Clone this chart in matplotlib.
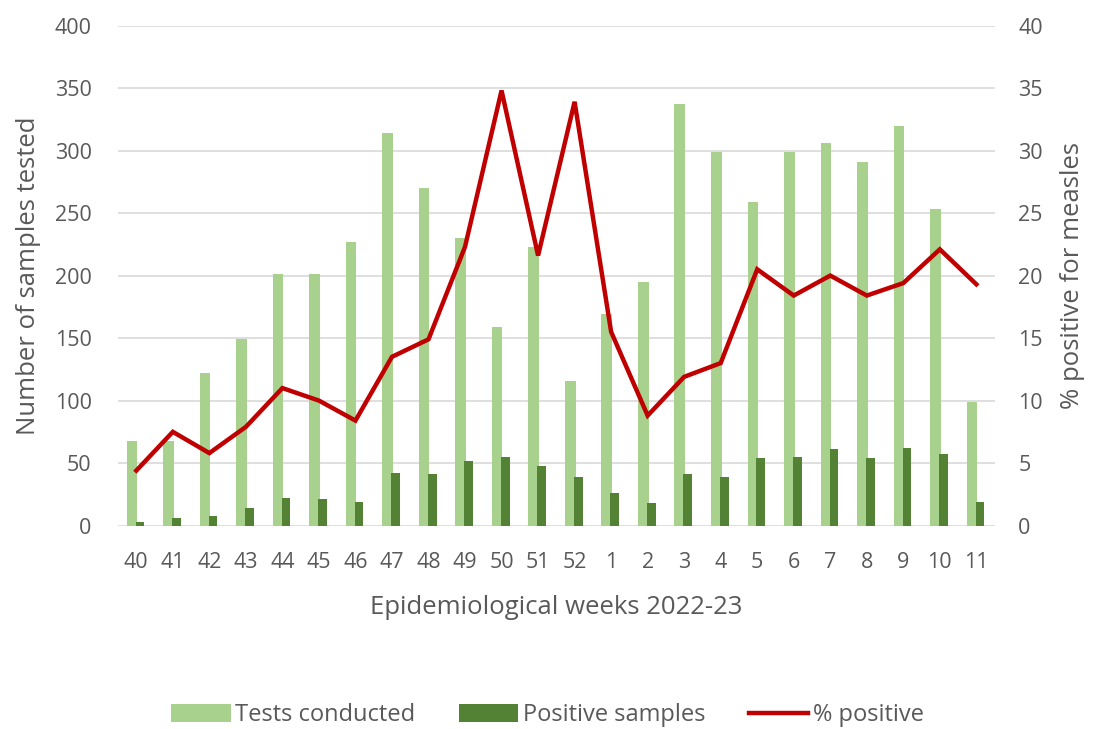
import matplotlib.pyplot as plt
import numpy as np

plt.rcParams['font.family'] = ['Open Sans', 'DejaVu Sans']

weeks = ['40', '41', '42', '43', '44', '45', '46', '47', '48', '49', '50', '51', '52',
         '1', '2', '3', '4', '5', '6', '7', '8', '9', '10', '11']
tests = [68, 68, 122, 149, 201, 201, 227, 314, 270, 230, 159, 223,
         116, 169, 195, 337, 299, 259, 299, 306, 291, 320, 253, 99]
positives = [3, 6, 8, 14, 22, 21, 19, 42, 41, 52, 55, 48,
             39, 26, 18, 41, 39, 54, 55, 61, 54, 62, 57, 19]
pct_positive = [4.4, 7.5, 5.8, 7.9, 11.0, 10.0, 8.4, 13.5, 14.9, 22.3, 34.8, 21.6,
                33.9, 15.5, 8.8, 11.9, 13.0, 20.5, 18.4, 20.0, 18.4, 19.4, 22.1, 19.3]

light = '#A9D18E'
dark = '#548235'
red = '#C00000'
grey = '#595959'

fig = plt.figure(figsize=(10.93, 7.29), dpi=100)
ax = fig.add_axes([0.108, 0.279, 0.802, 0.686])
ax2 = ax.twinx()

x = np.arange(len(weeks))
ax.bar(x - 0.12, tests, width=0.29, color=light, label='Tests conducted', zorder=2)
ax.bar(x + 0.10, positives, width=0.24, color=dark, label='Positive samples', zorder=3)
ax2.plot(x, pct_positive, color=red, linewidth=3.2, label='% positive',
         solid_joinstyle='miter')

ax.set_xlim(-0.5, len(weeks) - 0.5)
ax.set_ylim(0, 400)
ax.set_yticks(range(0, 401, 50))
ax2.set_ylim(0, 40)
ax2.set_yticks(range(0, 41, 5))
ax.set_xticks(x)
ax.set_xticklabels(weeks)

ax.grid(axis='y', color='#D9D9D9', linewidth=1.2, zorder=0)
ax.set_axisbelow(True)
for a in (ax, ax2):
    for s in a.spines.values():
        s.set_visible(False)
    a.tick_params(length=0, labelsize=15.5, colors=grey)
ax.tick_params(axis='y', pad=19)
ax2.tick_params(axis='y', pad=17)
ax.tick_params(axis='x', pad=19)

ax.set_ylabel('Number of samples tested', fontsize=18.5, color=grey, labelpad=10)
ax2.set_ylabel('% positive for measles', fontsize=18.5, color=grey, labelpad=12)
ax.set_xlabel('Epidemiological weeks 2022-23', fontsize=18.5, color=grey, labelpad=16)

h1, l1 = ax.get_legend_handles_labels()
h2, l2 = ax2.get_legend_handles_labels()
fig.legend(h1 + h2, l1 + l2, loc='center', bbox_to_anchor=(0.501, 0.019), ncol=3,
           frameon=False, fontsize=17, labelcolor=grey, handlelength=2.5,
           handleheight=0.75, handletextpad=0.2, columnspacing=1.85)

fig.savefig('out.png', dpi=100)
